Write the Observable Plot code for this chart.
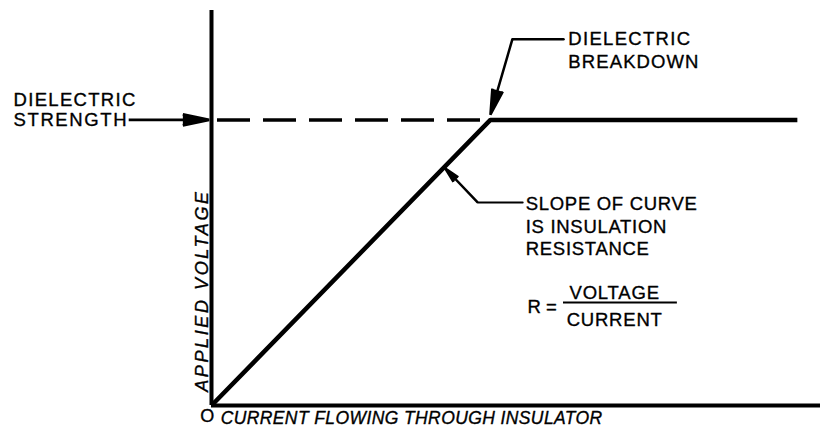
<!DOCTYPE html>
<html>
<head>
<meta charset="utf-8">
<script src="https://cdn.jsdelivr.net/npm/d3@7"></script>
<script src="https://cdn.jsdelivr.net/npm/@observablehq/plot@0.6"></script>
<style>
  html, body { margin: 0; padding: 0; background: #fff; }
  #chart svg { display: block; }
</style>
</head>
<body>
<div id="chart"></div>
<script>
// ---- Data (current = x, applied voltage = y, arbitrary units) ----
const curveCurrent = [0, 45.8, 96.2];
const curveVoltage = [0, 72.3, 72.3];
const dielectricStrength = 72.3;
const breakdownCurrent = 45.8;

// axis extents
const axisMax = [100, 100];

// annotation leaders (polyline points, last point = arrow tip)
const strengthLeaderX = [-13.6, -0.4];
const strengthLeaderY = [72.3, 72.3];
const breakdownLeaderX = [57.8, 49.4, 45.8];
const breakdownLeaderY = [92.7, 92.7, 73.6];
const slopeLeaderX = [51.1, 43.7, 38.4];
const slopeLeaderY = [51.4, 51.4, 60.0];

// annotation texts
const strengthLabel = ["DIELECTRIC", "STRENGTH"];
const strengthLabelX = [-32.5, -32.5];
const strengthLabelY = [77.2, 72.3];
const breakdownLabel = ["DIELECTRIC", "BREAKDOWN"];
const breakdownLabelX = [58.6, 58.6];
const breakdownLabelY = [92.8, 87.0];
const slopeLabel = ["SLOPE OF CURVE", "IS INSULATION", "RESISTANCE"];
const slopeLabelX = [51.6, 51.6, 51.6];
const slopeLabelY = [50.9, 45.1, 39.7];
const formulaLeft = {text: "R =", x: 51.9, y: 24.8};
const formulaNum = {text: "VOLTAGE", x: 66.2, y: 28.4};
const formulaDen = {text: "CURRENT", x: 66.2, y: 21.5};
const formulaBar = {x1: 57.8, x2: 76.5, y: 26.1};
const yTitle = {text: "APPLIED VOLTAGE", x: -1.6, y: 29.1};
const xTitle = {text: "CURRENT FLOWING THROUGH INSULATOR", x: 1.5, y: -3.3};
const originLabel = {text: "O", x: -0.7, y: -2.6};

// ---- Build tables ----
const curve = curveCurrent.map((c, i) => ({x: c, y: curveVoltage[i]}));
const toPts = (xs, ys) => xs.map((x, i) => ({x, y: ys[i]}));
const strengthPts = toPts(strengthLeaderX, strengthLeaderY);
const breakdownPts = toPts(breakdownLeaderX, breakdownLeaderY);
const slopePts = toPts(slopeLeaderX, slopeLeaderY);
const lastSeg = (p) => [{x1: p[p.length - 2].x, y1: p[p.length - 2].y, x2: p[p.length - 1].x, y2: p[p.length - 1].y}];
const rows = (labels, xs, ys) => labels.map((t, i) => ({t, x: xs[i], y: ys[i]}));

const font = "Liberation Sans, Arial, sans-serif";
const textBase = {fontFamily: font, fill: "#000", stroke: "#000", strokeWidth: 0.35, fontSize: 18.5};
// strokeOpacity 0.999 tags arrow marks so their heads can be filled after render
const arrowBase = {x1: "x1", y1: "y1", x2: "x2", y2: "y2", stroke: "#000", strokeOpacity: 0.999, strokeLinejoin: "miter", strokeLinecap: "butt", headAngle: 24};

const plot = Plot.plot({
  width: 820,
  height: 429,
  marginLeft: 211,
  marginRight: 0,
  marginTop: 10,
  marginBottom: 24,
  x: {domain: [0, axisMax[0]], axis: null},
  y: {domain: [0, axisMax[1]], axis: null},
  style: {background: "#fff", fontFamily: font},
  marks: [
    // axes
    Plot.ruleX([0], {y1: 0, y2: axisMax[1], stroke: "#000", strokeWidth: 4}),
    Plot.ruleY([0], {x1: 0, x2: axisMax[0], stroke: "#000", strokeWidth: 4}),
    // dashed dielectric strength level
    Plot.ruleY([dielectricStrength], {x1: 0, x2: breakdownCurrent, stroke: "#000", strokeWidth: 3.5, strokeDasharray: "33,13", strokeDashoffset: 40}),
    // V-I curve
    Plot.line(curve, {x: "x", y: "y", stroke: "#000", strokeWidth: 4.5, strokeLinejoin: "miter", strokeLinecap: "butt"}),
    // leaders
    Plot.arrow(lastSeg(strengthPts), {...arrowBase, strokeWidth: 2.8, headLength: 17}),
    Plot.line(breakdownPts.slice(0, 2), {x: "x", y: "y", stroke: "#000", strokeWidth: 2.5}),
    Plot.arrow(lastSeg(breakdownPts), {...arrowBase, strokeWidth: 2.5, headLength: 17}),
    Plot.line(slopePts.slice(0, 2), {x: "x", y: "y", stroke: "#000", strokeWidth: 2}),
    Plot.arrow(lastSeg(slopePts), {...arrowBase, strokeWidth: 2.5, headLength: 15}),
    // labels
    Plot.text(rows(strengthLabel, strengthLabelX, strengthLabelY), {x: "x", y: "y", text: "t", textAnchor: "start", ...textBase}),
    Plot.text(rows(breakdownLabel, breakdownLabelX, breakdownLabelY), {x: "x", y: "y", text: "t", textAnchor: "start", ...textBase}),
    Plot.text(rows(slopeLabel, slopeLabelX, slopeLabelY), {x: "x", y: "y", text: "t", textAnchor: "start", ...textBase}),
    // formula
    Plot.text([formulaLeft], {x: "x", y: "y", text: "text", textAnchor: "start", ...textBase}),
    Plot.text([formulaNum, formulaDen], {x: "x", y: "y", text: "text", textAnchor: "middle", ...textBase}),
    Plot.ruleY([formulaBar], {x1: "x1", x2: "x2", y: "y", stroke: "#000", strokeWidth: 2}),
    // axis titles
    Plot.text([yTitle], {x: "x", y: "y", text: "text", rotate: -90, textAnchor: "middle", ...textBase, fontSize: 18, fontStyle: "italic"}),
    Plot.text([xTitle], {x: "x", y: "y", text: "text", textAnchor: "start", ...textBase, fontSize: 17.5, fontStyle: "italic"}),
    Plot.text([originLabel], {x: "x", y: "y", text: "text", textAnchor: "middle", ...textBase, fontSize: 18})
  ]
});

// post-render styling: letter spacing (by label text) and filled arrowheads
const spacingByText = new Map([
  ["DIELECTRIC", 1.3], ["STRENGTH", 1.6], ["BREAKDOWN", 1.1],
  ["SLOPE OF CURVE", 0.7], ["IS INSULATION", 0.7], ["RESISTANCE", 0.7],
  ["VOLTAGE", 0.8], ["CURRENT", 0.8],
  ["APPLIED VOLTAGE", 2.6], ["CURRENT FLOWING THROUGH INSULATOR", 0.4]
]);
const svg = d3.select(plot);
svg.selectAll("text").each(function () {
  const ls = spacingByText.get(this.textContent);
  if (ls != null) this.style.letterSpacing = `${ls}px`;
});
svg.selectAll('[stroke-opacity="0.999"]').each(function () {
  this.setAttribute("fill", "#000");
  this.setAttribute("stroke-opacity", "1");
  d3.select(this).selectAll("path").attr("fill", "#000");
});

document.getElementById("chart").appendChild(plot);
</script>
</body>
</html>
